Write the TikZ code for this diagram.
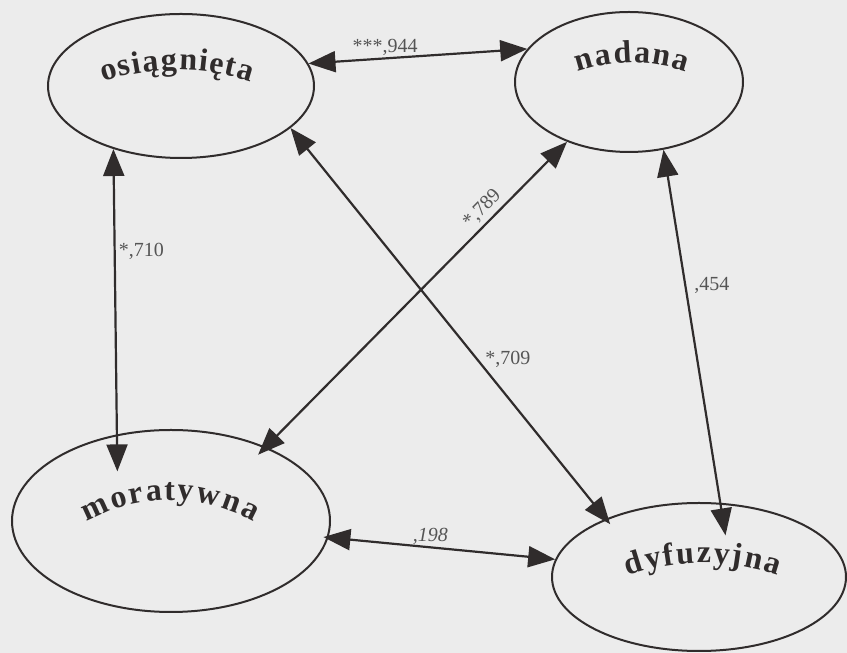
\documentclass[tikz,border=0pt]{standalone}
\usepackage{fontspec}
\setmainfont{Liberation Serif}
\usepackage{xcolor}
\usepackage{tikz}
\usetikzlibrary{arrows.meta,shapes.geometric,decorations.text}

\definecolor{paper}{RGB}{236,236,236}
\definecolor{ink}{RGB}{48,44,44}
\definecolor{numgray}{RGB}{85,85,85}

\newcommand{\ovalfont}{\bfseries\fontsize{32}{32}\selectfont}
\newcommand{\numfont}{\fontsize{20}{20}\selectfont}

\begin{document}
\begin{tikzpicture}[
    x=1pt, y=1pt,
    factor/.style={
        ellipse,
        draw=ink,
        line width=2pt,
        inner sep=0pt
    },
    link/.style={{Triangle[length=27pt,width=21pt]}-{Triangle[length=27pt,width=21pt]}, draw=ink, line width=2.2pt},
    coef/.style={font=\numfont, text=numgray, inner sep=0pt},
    curved/.style={decorate, decoration={text effects along path, text={#1},
        text effects/.cd, text along path, fit text to path,
        character widths={font=\ovalfont}, characters={text=ink, font=\ovalfont}}}
]

% Paper
\fill[paper] (0,0) rectangle (847,653);
\useasboundingbox (0,0) rectangle (847,653);

% Factors
\node[factor, minimum width=266pt, minimum height=144pt] (osi) at (181,567) {};
\node[factor, minimum width=228pt, minimum height=140pt] (nad) at (629,571) {};
\node[factor, minimum width=318pt, minimum height=182pt] (mor) at (171,132) {};
\node[factor, minimum width=294pt, minimum height=148pt] (dyf) at (699,76) {};

% Curved names
\path[curved=osiągnięta] ([shift={(-4,-218)}]osi.center) ++(108.4:234) arc[start angle=108.4, end angle=71.6, radius=234];
\path[curved=nadana] ([shift={(3,-149)}]nad.center) ++(108.8:168) arc[start angle=108.8, end angle=71.2, radius=168];
\path[curved=moratywna] ([shift={(-1,-151)}]mor.center) ++(119:172) arc[start angle=119, end angle=61, radius=172];
\path[curved=dyfuzyjna] ([shift={(4,-214)}]dyf.center) ++(109.2:228) arc[start angle=109.2, end angle=70.8, radius=228];

% Correlations
\draw[link] (osi.10) -- node[coef, pos=.35, above=2pt] {***,944} (nad.162);
\draw[link, shorten >=-37pt] (osi.223.6) -- node[coef, pos=.357, right=3pt] {*,710} (mor.122.8);
\draw[link, shorten >=-7pt] (osi.-21) -- node[coef, pos=.592, right=7pt] {*,709} (dyf.148.6);
\draw[link, shorten >=-11pt] (nad.224.5) -- node[coef, pos=.25, sloped, above=4pt] {*,789} (mor.38);
\draw[link, shorten >=-33pt] (nad.297.9) -- node[coef, pos=.384, right=8pt] {,454} (dyf.74);
\draw[link, shorten <=-5pt] (mor.-6.4) -- node[coef, pos=.45, above=2pt] {\itshape ,198} (dyf.173);

\end{tikzpicture}
\end{document}
